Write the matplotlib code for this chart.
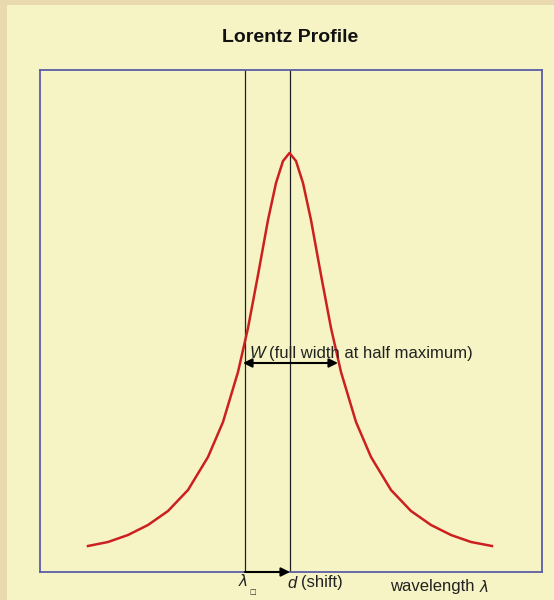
import matplotlib
matplotlib.use("Agg")
import matplotlib.pyplot as plt
from matplotlib.patches import Rectangle

# ---- data (arbitrary units) ----
wavelength = [48, 68, 88, 108, 128, 148, 168, 183, 198, 208, 218, 228, 236, 243, 249.5,
              256, 263, 271, 281, 291, 301, 316, 331, 351, 371, 391, 411, 431, 452]
intensity = [26, 30, 37, 47, 61, 82, 115, 150, 200, 244, 297, 352, 389, 411, 419,
             411, 389, 352, 297, 244, 200, 150, 115, 82, 61, 47, 37, 30, 26]
lambda_0 = 205          # rest wavelength
line_center = 250       # shifted line centre
half_max = 209          # half-maximum level
fwhm_left, fwhm_right = 203, 298

title = "Lorentz Profile"

BG = "#F6F4C4"
TXT = "#222222"
fig = plt.figure(figsize=(5.54, 6.0), dpi=100, facecolor=BG)
# tan border strips (left and top)
fig.patches.append(Rectangle((0, 0), 7 / 554, 1, transform=fig.transFigure,
                             facecolor="#E8D9AE", edgecolor="none", zorder=0))
fig.patches.append(Rectangle((0, 1 - 5 / 600), 1, 5 / 600, transform=fig.transFigure,
                             facecolor="#E8D9AE", edgecolor="none", zorder=0))

ax = fig.add_axes([40 / 554, 1 - 572 / 600, 502 / 554, 502 / 600])
ax.set_facecolor(BG)
ax.set_xlim(0, 502)
ax.set_ylim(0, 502)
ax.set_xticks([])
ax.set_yticks([])
for s in ax.spines.values():
    s.set_color("#5a5ea6")
    s.set_linewidth(1.3)

ax.plot(wavelength, intensity, color="#CC2020", lw=1.8, zorder=3)

ax.axvline(lambda_0, color=TXT, lw=0.9, zorder=2)
ax.axvline(line_center, color=TXT, lw=0.9, zorder=2)

# FWHM arrow
ax.annotate("", xy=(fwhm_left, half_max), xytext=(fwhm_right, half_max),
            arrowprops=dict(arrowstyle="<|-|>", color="black", lw=1.5,
                            mutation_scale=13, shrinkA=0, shrinkB=0), zorder=4)
ax.text(fwhm_left + 7, half_max + 2, "W", fontstyle="italic", fontsize=12,
        family="Liberation Sans", color=TXT, ha="left", va="bottom", zorder=5)
ax.text(fwhm_left + 26, half_max + 2, "(full width at half maximum)", fontsize=12,
        family="Liberation Sans", color=TXT, ha="left", va="bottom", zorder=5)

# shift arrow on the baseline
ax.annotate("", xy=(line_center, 0), xytext=(lambda_0, 0),
            arrowprops=dict(arrowstyle="-|>", color="black", lw=1.5,
                            mutation_scale=13, shrinkA=0, shrinkB=0),
            annotation_clip=False, zorder=5)

ax.text(lambda_0 - 2, -9, "λ", fontstyle="italic", fontsize=11, family="DejaVu Sans",
        color=TXT, ha="center", va="center", clip_on=False)
ax.text(lambda_0 + 8, -20, "□", fontsize=5, fontweight="bold", family="DejaVu Sans",
        color=TXT, ha="center", va="center", clip_on=False)
ax.text(line_center - 3, -11, "d", fontstyle="italic", fontsize=12, family="Liberation Sans",
        color=TXT, ha="left", va="center", clip_on=False)
ax.text(line_center + 11, -11, "(shift)", fontsize=12, family="Liberation Sans",
        color=TXT, ha="left", va="center", clip_on=False)
ax.text(350, -15, "wavelength", fontsize=12, family="Liberation Sans",
        color=TXT, ha="left", va="center", clip_on=False)
ax.text(440, -15, "λ", fontstyle="italic", fontsize=11, family="DejaVu Sans",
        color=TXT, ha="left", va="center", clip_on=False)

fig.text(290 / 554, 1 - 37 / 600, title, fontsize=14, fontweight="bold",
         family="Liberation Sans", color="#111111", ha="center", va="center")

fig.savefig("out.png", dpi=100, facecolor=BG)
